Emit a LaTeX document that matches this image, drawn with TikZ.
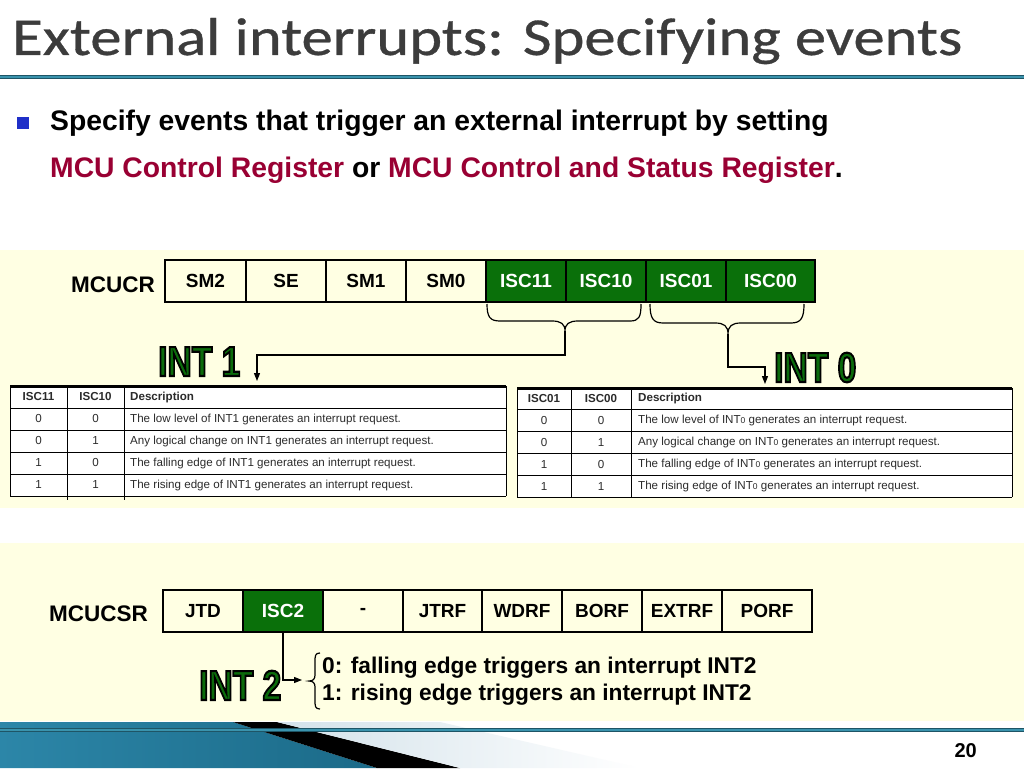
\documentclass[tikz,border=0pt]{standalone}
\usepackage{fontspec}
\setmainfont{Liberation Sans}
\newfontfamily\titlefont{Carlito}[FakeBold=0.6]
\newfontfamily\intfont{Liberation Sans}[UprightFont=* Bold, FakeBold=5]
\usetikzlibrary{arrows.meta,calc}
\definecolor{panel}{HTML}{FFFFE3}
\definecolor{regGreen}{HTML}{0A700A}
\definecolor{intGreen}{HTML}{0B6B0B}
\definecolor{maroonred}{HTML}{990033}
\definecolor{bulletBlue}{HTML}{1F2FC8}
\definecolor{titleGray}{HTML}{3C3C3C}
\definecolor{tealLine}{HTML}{3A93AD}
\definecolor{tealDark}{HTML}{1E5566}
\definecolor{tabText}{HTML}{2B2B2B}
\definecolor{blueA}{HTML}{2C86A8}
\definecolor{blueB}{HTML}{58B6D8}
\definecolor{blueC}{HTML}{1B6A88}
\definecolor{lightStrip}{HTML}{D3E2EA}
\newcommand{\intlabel}[1]{\scalebox{0.8}[1]{\special{pdf:code 0 G}#1}}
\begin{document}
\begin{tikzpicture}[x=1pt,y=-1pt,
  regcell/.style={draw=black, line width=1.5pt, fill=panel, minimum height=42pt, inner sep=0pt, outer sep=0pt, font=\fontsize{19}{23}\selectfont\bfseries},
  greencell/.style={regcell, fill=regGreen, text=white},
  reglabel/.style={inner sep=0pt, font=\fontsize{22.5}{26}\selectfont\bfseries},
  intlbl/.style={inner sep=0pt, text=intGreen, font=\fontsize{42}{42}\intfont},
  conn/.style={draw=black, line width=1.2pt},
  tip/.style={-{Triangle[length=8pt,width=6pt]}},
  tabtxt/.style={inner sep=0pt, text=tabText, font=\fontsize{11.6}{13}\selectfont},
  tabhead/.style={tabtxt, font=\fontsize{11.6}{13}\selectfont\bfseries},
  tabline/.style={draw=black, line width=0.8pt}
]
\useasboundingbox (0,0) rectangle (1024,768);
\fill[white] (0,0) rectangle (1024,768);

% title
\node[anchor=base west, inner sep=0pt, text=titleGray] (title) at (12,55)
  {\resizebox{950pt}{37pt}{\titlefont External interrupts: Specifying events}};
\draw[tealDark, line width=4.5pt] (0,77) -- (1024,77);
\draw[tealLine, line width=2.5pt] (0,77) -- (1024,77);

% bullet text
\fill[bulletBlue] (17,117) rectangle (29,129);
\node[anchor=base west, inner sep=0pt, font=\fontsize{28.3}{32}\selectfont\bfseries] (line1) at (50,130)
  {Specify events that trigger an external interrupt by setting};
\node[anchor=base west, inner sep=0pt, font=\fontsize{28.3}{32}\selectfont\bfseries] (line2) at (50,177)
  {\textcolor{maroonred}{MCU Control Register} or \textcolor{maroonred}{MCU Control and Status Register}.};

% panels
\fill[panel] (0,250) rectangle (1024,508);
\fill[panel] (0,543) rectangle (1024,721);

% MCUCR register
\node[reglabel, anchor=base east] (mcucr) at (155,292) {MCUCR};
\node[regcell, minimum width=81pt] (sm2) at (205.5,281) {SM2};
\node[regcell, minimum width=80pt] (se) at (286,281) {SE};
\node[regcell, minimum width=80pt] (sm1) at (366,281) {SM1};
\node[regcell, minimum width=80pt] (sm0) at (446,281) {SM0};
\node[greencell, minimum width=80pt] (isc11) at (526,281) {ISC11};
\node[greencell, minimum width=80pt] (isc10) at (606,281) {ISC10};
\node[greencell, minimum width=80pt] (isc01) at (686,281) {ISC01};
\node[greencell, minimum width=89pt] (isc00) at (770.5,281) {ISC00};

% braces and arrows
\coordinate (b1tip) at (565,331);
\coordinate (b2tip) at (728,334);
\coordinate (int1end) at (257,381);
\coordinate (int0end) at (765,384);
\draw[conn] (487,304) .. controls (487,317) and (490,321) .. (500,321) -- (552,321)
  .. controls (561,321) and (565,324) .. (b1tip)
  .. controls (565,324) and (569,321) .. (578,321) -- (630,321)
  .. controls (639,321) and (641,317) .. (641,304);
\draw[conn, tip] (b1tip) -- (565,355) -- (257,355) -- (int1end);
\draw[conn] (650,304) .. controls (650,318) and (653,323) .. (663,323) -- (715,323)
  .. controls (724,323) and (728,326) .. (b2tip)
  .. controls (728,326) and (732,323) .. (741,323) -- (791,323)
  .. controls (801,323) and (804,318) .. (804,304);
\draw[conn, tip] (b2tip) -- (728,367) -- (765,367) -- (int0end);

\node[intlbl, anchor=base west] (int1) at (158,376) {\intlabel{INT 1}};
\node[intlbl, anchor=base west] (int0) at (774,382) {\intlabel{INT 0}};

% table 1
\fill[white] (10,386) rectangle (506,496);
\foreach \yy in {408,430,452,474,496} \draw[tabline] (10,\yy) -- (506,\yy);
\foreach \xx in {10,506} \draw[tabline] (\xx,386) -- (\xx,496);
\foreach \xx in {67,124} \draw[tabline] (\xx,386) -- (\xx,500);
\draw[black, line width=3pt] (10,386) -- (506,386);
\node[tabhead] (t1ha) at (38.5,397) {ISC11};
\node[tabhead] (t1hb) at (95.5,397) {ISC10};
\node[tabhead, anchor=west] (t1hc) at (130,397) {Description};
\foreach \a/\b/\d [count=\i] in {0/0/The low level of INT1 generates an interrupt request.,
  0/1/Any logical change on INT1 generates an interrupt request.,
  1/0/The falling edge of INT1 generates an interrupt request.,
  1/1/The rising edge of INT1 generates an interrupt request.}{
  \node[tabtxt] (t1a\i) at (38.5,397+22*\i) {\a};
  \node[tabtxt] (t1b\i) at (95.5,397+22*\i) {\b};
  \node[tabtxt, anchor=west] (t1d\i) at (130,397+22*\i) {\d};
}

% table 2
\fill[white] (517,388) rectangle (1012,497);
\foreach \yy in {409,431,453,475,497} \draw[tabline] (517,\yy) -- (1012,\yy);
\foreach \xx in {517,571,631,1012} \draw[tabline] (\xx,388) -- (\xx,497);
\draw[black, line width=3pt] (517,388) -- (1012,388);
\node[tabhead] (t2ha) at (544,398.5) {ISC01};
\node[tabhead] (t2hb) at (601,398.5) {ISC00};
\node[tabhead, anchor=west] (t2hc) at (638,398.5) {Description};
\foreach \a/\b/\d [count=\i] in {0/0/The low level of INT{\fontsize{8.5}{8}\selectfont 0} generates an interrupt request.,
  0/1/Any logical change on INT{\fontsize{8.5}{8}\selectfont 0} generates an interrupt request.,
  1/0/The falling edge of INT{\fontsize{8.5}{8}\selectfont 0} generates an interrupt request.,
  1/1/The rising edge of INT{\fontsize{8.5}{8}\selectfont 0} generates an interrupt request.}{
  \node[tabtxt] (t2a\i) at (544,398.5+22*\i) {\a};
  \node[tabtxt] (t2b\i) at (601,398.5+22*\i) {\b};
  \node[tabtxt, anchor=west] (t2d\i) at (638,398.5+22*\i) {\d};
}

% MCUCSR register
\node[reglabel, anchor=base east] (mcucsr) at (148,621) {MCUCSR};
\node[regcell, minimum width=80pt] (jtd) at (203,611) {JTD};
\node[greencell, minimum width=80pt] (isc2) at (283,611) {ISC2};
\node[regcell, minimum width=80pt] (dash) at (363,611) {-};
\node[regcell, minimum width=79pt] (jtrf) at (442.5,611) {JTRF};
\node[regcell, minimum width=80pt] (wdrf) at (522,611) {WDRF};
\node[regcell, minimum width=80pt] (borf) at (602,611) {BORF};
\node[regcell, minimum width=80pt] (extrf) at (682,611) {EXTRF};
\node[regcell, minimum width=90pt] (porf) at (767,611) {PORF};

\coordinate (int2end) at (302,680);
\draw[conn, tip] (isc2.south) -- (283,680) -- (int2end);
\draw[conn] (320,653) .. controls (315,653) and (315,656) .. (315,662) -- (315,675)
  .. controls (315,679) and (313,681) .. (309,681)
  .. controls (313,681) and (315,683) .. (315,687) -- (315,700)
  .. controls (315,706) and (315,709) .. (320,709);
\node[intlbl, anchor=base west] (int2) at (199,700) {\intlabel{INT 2}};
\node[anchor=base west, inner sep=0pt, font=\fontsize{22.75}{26}\selectfont\bfseries] (opt0) at (322,673)
  {0: falling edge triggers an interrupt INT2};
\node[anchor=base west, inner sep=0pt, font=\fontsize{22.75}{26}\selectfont\bfseries] (opt1) at (322,700)
  {1: rising edge triggers an interrupt INT2};

% footer decoration
\shade[left color=blueA, middle color=blueB, right color=blueC] (0,722) -- (233,722) -- (377,768) -- (0,768) -- cycle;
\fill[black] (233,722) -- (277,722) -- (460,768) -- (377,768) -- cycle;
\shade[left color=lightStrip, right color=white] (277,722) -- (440,722) -- (640,768) -- (460,768) -- cycle;
\draw[tealDark, line width=4pt] (0,730) -- (1024,730);
\draw[tealLine, line width=2pt] (0,730) -- (1024,730);
\node[anchor=base east, inner sep=0pt, font=\fontsize{20}{24}\selectfont\bfseries] (pagenum) at (977,757) {20};
\end{tikzpicture}
\end{document}
